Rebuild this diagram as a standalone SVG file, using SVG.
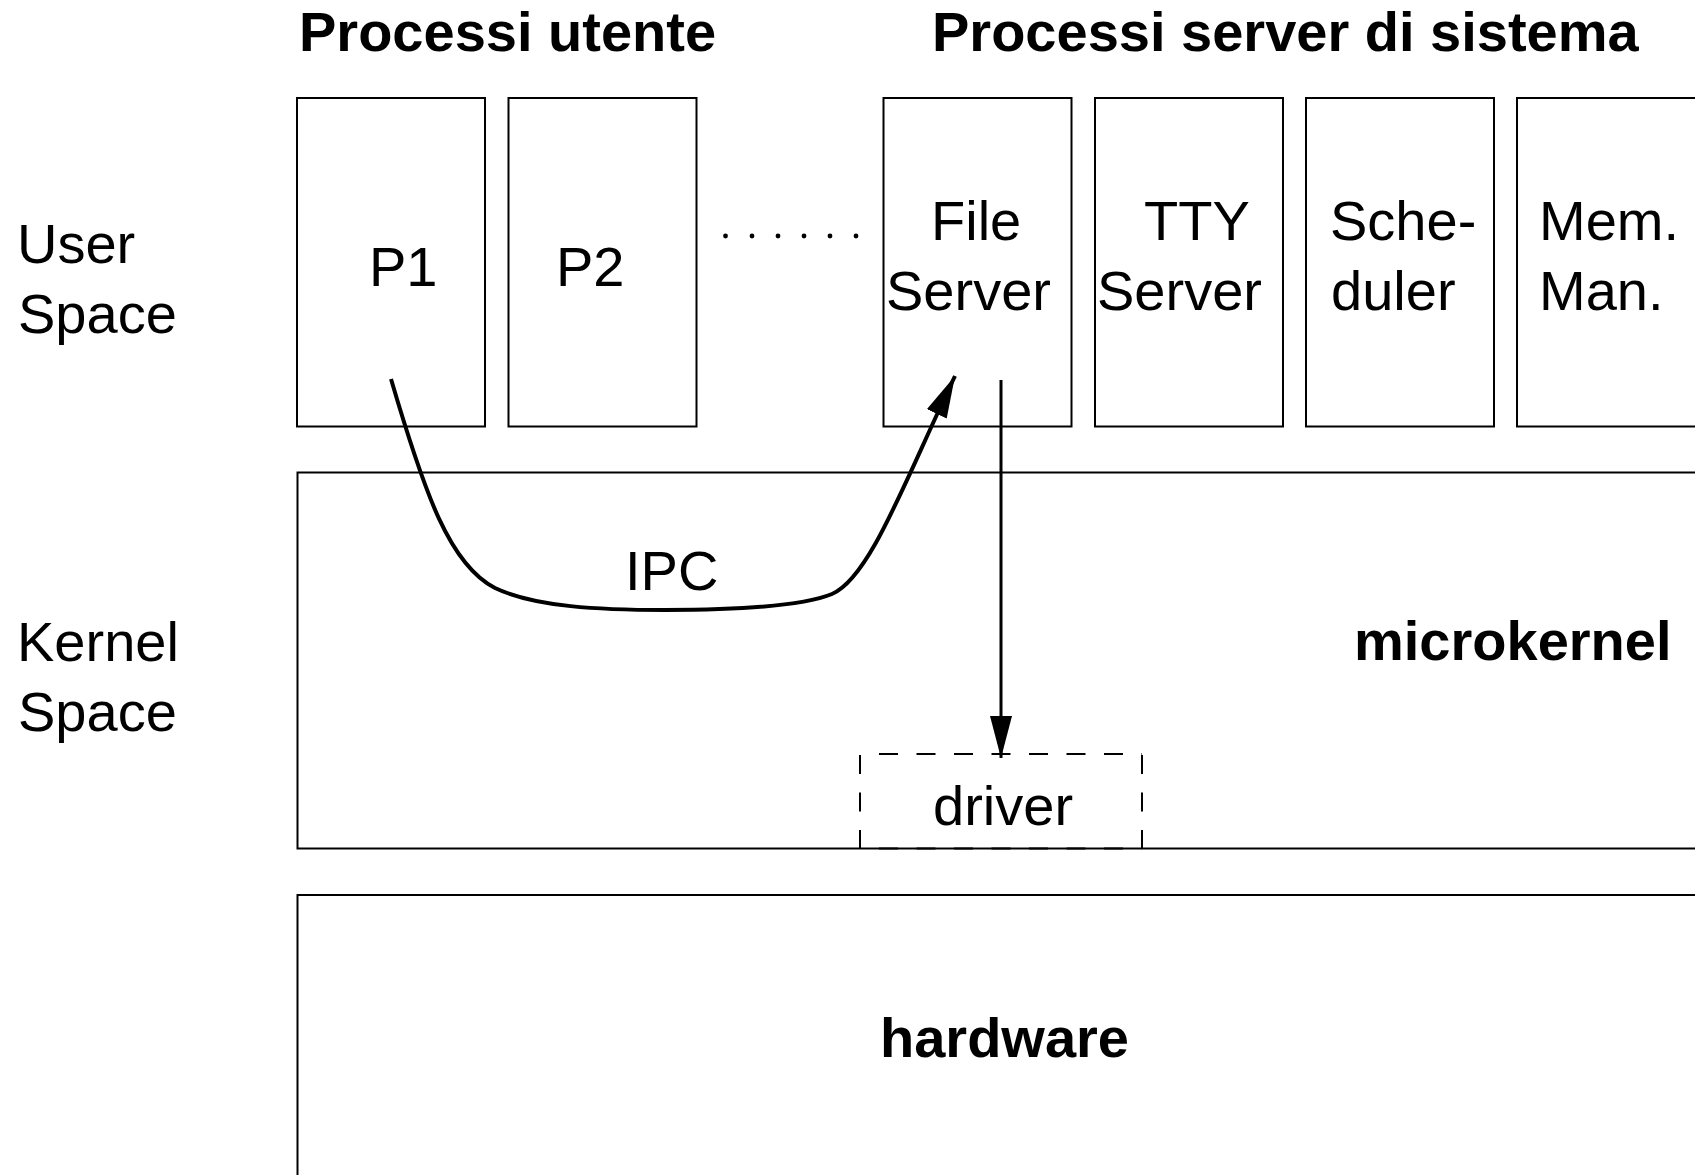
<svg xmlns="http://www.w3.org/2000/svg" width="1695" height="1175" viewBox="0 0 1695 1175">
<style>
text { font-family: "Liberation Sans", Arial, Helvetica, sans-serif; font-size: 56px; fill: #000; }
.b { font-weight: bold; }
.box { fill: none; stroke: #000; stroke-width: 2; }
.dash { fill: none; stroke: #000; stroke-width: 2; stroke-dasharray: 19 18.5; }
.conn { fill: none; stroke: #000; stroke-width: 4; }
.conn2 { fill: none; stroke: #000; stroke-width: 3; }
</style>
<defs>
<marker id="ah" markerUnits="userSpaceOnUse" viewBox="0 0 42 22" refX="42" refY="11" markerWidth="42" markerHeight="22" orient="auto">
<path d="M0,0 L42,11 L0,22 Z" fill="#000"/>
</marker>
</defs>
<rect width="1695" height="1175" fill="#fff"/>
<g id="titles">
<text class="b" x="299" y="51">Processi utente</text>
<text class="b" x="932" y="51">Processi server di sistema</text>
</g>
<g id="labels">
<text x="17" y="263">User</text>
<text x="18" y="333">Space</text>
<text x="17" y="661">Kernel</text>
<text x="18" y="731">Space</text>
</g>
<g id="p1"><rect class="box" x="297" y="98" width="188" height="328.5"/><text x="369" y="286">P1</text></g>
<g id="p2"><rect class="box" x="508.5" y="98" width="188" height="328.5"/><text x="556" y="286">P2</text></g>
<g id="dots">
<circle cx="725.5" cy="236" r="2.4"/><circle cx="752" cy="236" r="2.4"/><circle cx="778" cy="236" r="2.4"/><circle cx="804" cy="236" r="2.4"/><circle cx="830" cy="236" r="2.4"/><circle cx="856" cy="236" r="2.4"/>
</g>
<g id="fileserver"><rect class="box" x="883.5" y="98" width="188" height="328.5"/><text x="931" y="240">File</text><text x="886" y="310">Server</text></g>
<g id="ttyserver"><rect class="box" x="1095" y="98" width="188" height="328.5"/><text x="1144" y="240">TTY</text><text x="1097" y="310">Server</text></g>
<g id="scheduler"><rect class="box" x="1306" y="98" width="188" height="328.5"/><text x="1330" y="240">Sche-</text><text x="1331" y="310">duler</text></g>
<g id="memman"><rect class="box" x="1517" y="98" width="250" height="328.5"/><text x="1539" y="240">Mem.</text><text x="1539" y="310">Man.</text></g>
<g id="microkernel"><rect class="box" x="297.5" y="472.5" width="1450" height="376"/><text class="b" x="1354" y="660">microkernel</text></g>
<g id="driver">
<line class="dash" x1="879" y1="754" x2="1142" y2="754"/>
<line class="dash" x1="879" y1="848.5" x2="1142" y2="848.5"/>
<line class="dash" x1="860" y1="755" x2="860" y2="848.5"/>
<line class="dash" x1="1142" y1="755" x2="1142" y2="848.5"/>
<text x="933" y="825">driver</text>
</g>
<g id="hardware"><rect class="box" x="297.5" y="895" width="1450" height="400"/><text class="b" x="880" y="1057">hardware</text></g>
<g id="connectors">
<path class="conn" d="M391,379 C425,495 450,565 495,588 C535,607 600,610 665,610 C735,610 800,607 832,594 C870,578 905,480 955,376" marker-end="url(#ah)"/>
<line class="conn2" x1="1001" y1="380" x2="1001" y2="758" marker-end="url(#ah)"/>
<text x="625" y="590">IPC</text>
</g>
</svg>
